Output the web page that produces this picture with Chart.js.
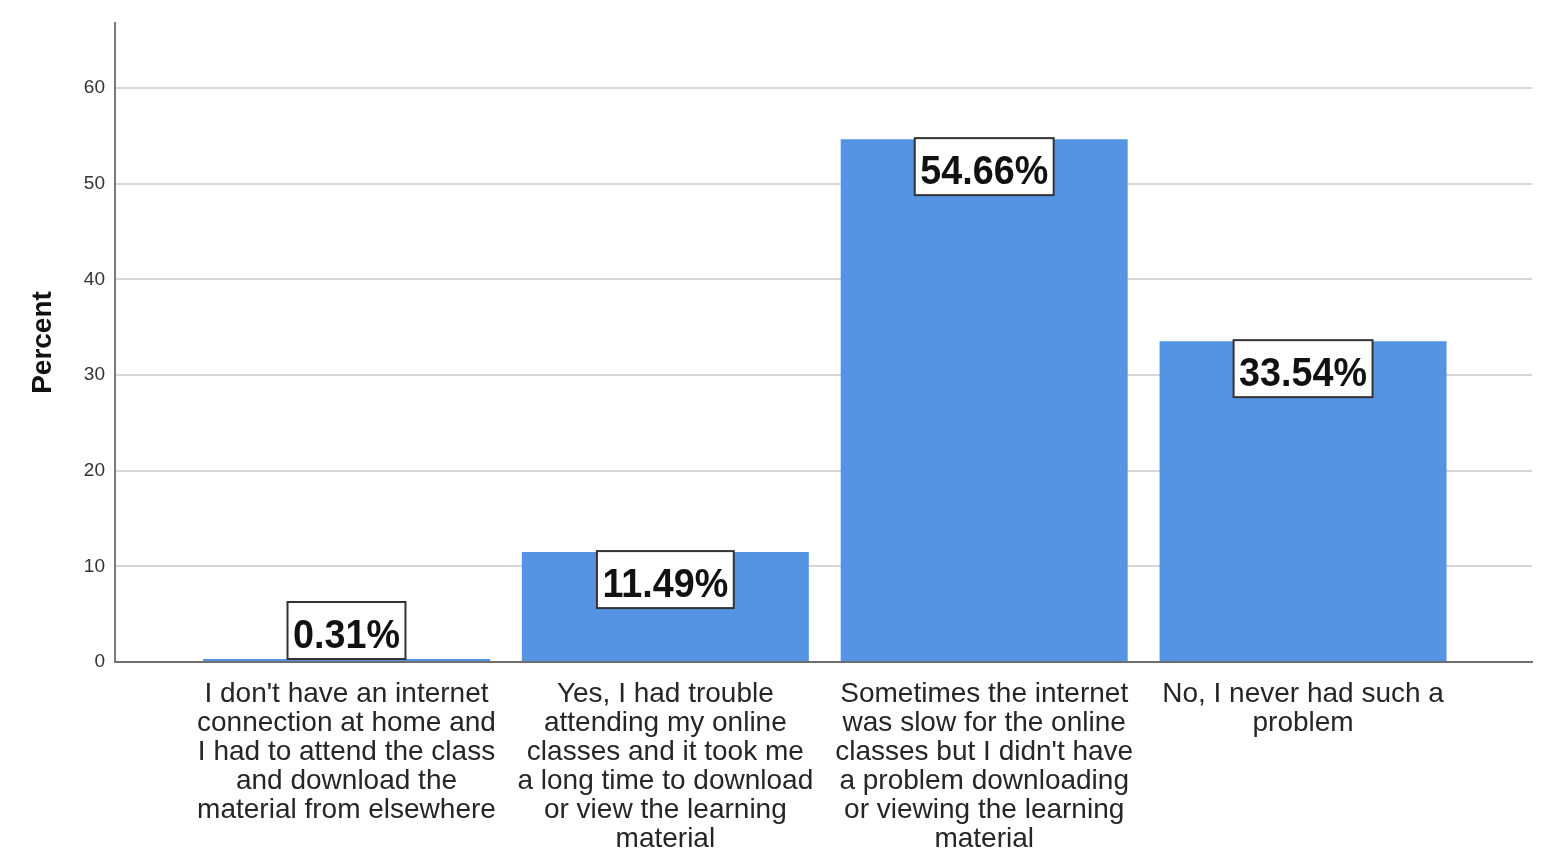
<!DOCTYPE html>
<html>
<head>
<meta charset="utf-8">
<script src="https://cdn.jsdelivr.net/npm/chart.js@4"></script>
<style>
  html, body { margin: 0; padding: 0; background: #fff; }
  #wrap { width: 1556px; height: 868px; position: relative; }
</style>
</head>
<body>
<div id="wrap"><canvas id="chart"></canvas></div>
<script>
  // categories (full text) and how they wrap under the axis
  const categories = [
    "I don't have an internet connection at home and I had to attend the class and download the material from elsewhere",
    "Yes, I had trouble attending my online classes and it took me a long time to download or view the learning material",
    "Sometimes the internet was slow for the online classes but I didn't have a problem downloading or viewing the learning material",
    "No, I never had such a problem"
  ];
  const categoryLines = [
    ["I don't have an internet", "connection at home and", "I had to attend the class", "and download the", "material from elsewhere"],
    ["Yes, I had trouble", "attending my online", "classes and it took me", "a long time to download", "or view the learning", "material"],
    ["Sometimes the internet", "was slow for the online", "classes but I didn't have", "a problem downloading", "or viewing the learning", "material"],
    ["No, I never had such a", "problem"]
  ];
  const percents = [0.31, 11.49, 54.66, 33.54];
  const yTicks = [0, 10, 20, 30, 40, 50, 60];

  const BAR = '#5594E2';

  // white boxed percentage labels at the top of each bar
  const boxLabels = {
    id: 'boxLabels',
    afterDatasetsDraw(chart) {
      const ctx = chart.ctx;
      const meta = chart.getDatasetMeta(0);
      const base = chart.scales.y.getPixelForValue(0);
      const sx = 0.92, h = 57;
      ctx.save();
      ctx.font = 'bold 41px "Liberation Sans", Arial, sans-serif';
      meta.data.forEach((bar, i) => {
        const txt = percents[i].toFixed(2) + '%';
        const tw = ctx.measureText(txt).width * sx;
        const w = tw + 11;
        const top = Math.min(bar.y - 1, base - 60);
        const left = bar.x - w / 2;
        ctx.fillStyle = '#fff';
        ctx.fillRect(left, top, w, h);
        ctx.strokeStyle = '#333';
        ctx.lineWidth = 2;
        ctx.strokeRect(left, top, w, h);
        ctx.save();
        ctx.translate(bar.x, top + 46);
        ctx.scale(sx, 1);
        ctx.fillStyle = '#111';
        ctx.textAlign = 'center';
        ctx.textBaseline = 'alphabetic';
        ctx.fillText(txt, 0, 0);
        ctx.restore();
      });
      ctx.restore();
    }
  };

  new Chart(document.getElementById('chart'), {
    type: 'bar',
    data: {
      datasets: [{
        label: 'Percent',
        data: categories.map((c, i) => ({ x: i, y: percents[i] })),
        backgroundColor: BAR,
        borderWidth: 0,
        barPercentage: 0.9,
        categoryPercentage: 1
      }]
    },
    options: {
      responsive: true,
      maintainAspectRatio: false,
      animation: false,
      layout: { padding: { top: 23, right: 24, left: 0, bottom: 0 } },
      plugins: { legend: { display: false }, tooltip: { enabled: false } },
      scales: {
        x: {
          type: 'linear',
          min: -0.726,
          max: 3.718,
          offset: false,
          grid: { display: false },
          border: { display: true, color: '#6e6e6e', width: 2 },
          afterBuildTicks: (s) => { s.ticks = categories.map((c, i) => ({ value: i })); },
          afterFit: (s) => { s.height = 206; },
          ticks: {
            autoSkip: false,
            maxRotation: 0,
            minRotation: 0,
            padding: 10,
            color: '#262626',
            font: { family: '"Liberation Sans", Arial, sans-serif', size: 28, lineHeight: '29px' },
            callback: (v) => categoryLines[v]
          }
        },
        y: {
          min: 0,
          max: 66.8,
          grid: { color: '#d6d6d6', lineWidth: 2, drawTicks: false },
          border: { display: true, color: '#7a7a7a', width: 2 },
          afterBuildTicks: (s) => { s.ticks = yTicks.map(v => ({ value: v })); },
          afterFit: (s) => { s.width = 115; },
          ticks: {
            padding: 10,
            color: '#333',
            font: { family: '"Liberation Sans", Arial, sans-serif', size: 19 }
          },
          title: {
            display: true,
            text: 'Percent',
            color: '#111',
            padding: { top: 26, bottom: 0 },
            font: { family: '"Liberation Sans", Arial, sans-serif', size: 28, weight: 'bold' }
          }
        }
      }
    },
    plugins: [boxLabels]
  });
</script>
</body>
</html>
